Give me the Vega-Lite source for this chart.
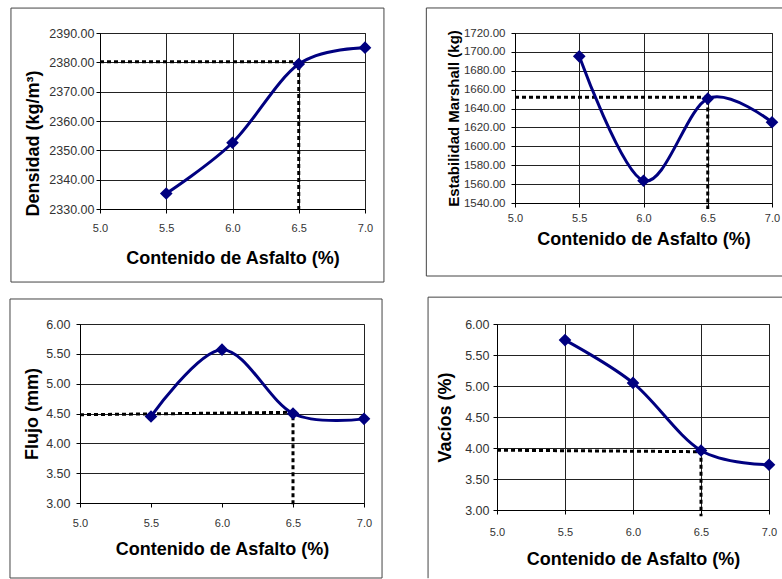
{
  "$schema": "https://vega.github.io/schema/vega-lite/v6.json",
  "background": "white",
  "padding": {"left": 8, "top": 6, "right": 0, "bottom": 0},
  "datasets": {
    "dens": [{"x": 5.5, "y": 2335.3}, {"x": 6.0, "y": 2352.6}, {"x": 6.5, "y": 2379.4}, {"x": 7.0, "y": 2385.0}],
    "estab": [{"x": 5.5, "y": 1695.3}, {"x": 6.0, "y": 1563.6}, {"x": 6.5, "y": 1650.5}, {"x": 7.0, "y": 1625.5}],
    "flujo": [{"x": 5.5, "y": 4.45}, {"x": 6.0, "y": 5.57}, {"x": 6.5, "y": 4.5}, {"x": 7.0, "y": 4.41}],
    "vacios": [{"x": 5.5, "y": 5.74}, {"x": 6.0, "y": 5.05}, {"x": 6.5, "y": 3.96}, {"x": 7.0, "y": 3.73}],
    "ref_dens": [{"k": 1, "x": 5.0, "y": 2380.2}, {"k": 2, "x": 6.5, "y": 2380.2}, {"k": 3, "x": 6.5, "y": 2328.6}],
    "ref_estab": [{"k": 1, "x": 5.0, "y": 1652}, {"k": 2, "x": 6.5, "y": 1652}, {"k": 3, "x": 6.5, "y": 1533.6}],
    "ref_flujo": [{"k": 1, "x": 5.0, "y": 4.48}, {"k": 2, "x": 6.5, "y": 4.52}, {"k": 3, "x": 6.5, "y": 2.93}],
    "ref_vacios": [{"k": 1, "x": 5.0, "y": 3.965}, {"k": 2, "x": 6.5, "y": 3.94}, {"k": 3, "x": 6.5, "y": 2.9}],
    "frame": [{"part": "marco"}],
    "empty": []
  },
  "config": {
    "view": {"stroke": "#222", "strokeWidth": 1},
    "axis": {
      "labelFont": "Liberation Sans",
      "titleFont": "Liberation Sans",
      "titleFontWeight": "bold",
      "titleFontSize": 18,
      "titleColor": "#000",
      "labelColor": "#333",
      "domainColor": "#000",
      "tickColor": "#000",
      "gridColor": "#222",
      "gridOpacity": 1,
      "tickSize": 4,
      "labelOverlap": false,
      "labelFlush": false
    }
  },
  "vconcat": [
    {
      "hconcat": [
        {
          "hconcat": [
            {
              "width": 1,
              "height": 1,
              "view": {"stroke": null},
              "data": {"name": "empty"},
              "mark": {"type": "point", "opacity": 0},
              "encoding": {}
            },
            {
              "width": 265,
              "height": 176,
              "layer": [
                {
                  "data": {"name": "frame"},
                  "mark": {"type": "rect", "filled": false, "color": "#444", "strokeWidth": 1},
                  "encoding": {
                    "x": {"datum": 4.328, "type": "quantitative", "scale": {"domain": [5, 7], "nice": false, "zero": false},
                      "axis": {"values": [5, 5.5, 6, 6.5, 7], "format": ".1f", "title": "Contenido de Asfalto (%)", "labelFontSize": 11, "labelPadding": 9, "titlePadding": 16, "grid": true}},
                    "x2": {"datum": 7.143},
                    "y": {"datum": 2398.5, "type": "quantitative", "scale": {"domain": [2330, 2390], "nice": false, "zero": false},
                      "axis": {"values": [2330, 2340, 2350, 2360, 2370, 2380, 2390], "format": ".2f", "title": "Densidad  (kg/m³)", "labelFontSize": 12.5, "labelPadding": 2, "titlePadding": 6, "titleY": 110, "grid": true}},
                    "y2": {"datum": 2305.1}
                  }
                },
                {
                  "data": {"name": "ref_dens"},
                  "mark": {"type": "line", "color": "#000", "strokeWidth": 3, "strokeDash": [4, 3]},
                  "encoding": {
                    "x": {"field": "x", "type": "quantitative", "scale": {"domain": [5, 7], "nice": false, "zero": false},
                      "axis": {"values": [5, 5.5, 6, 6.5, 7], "format": ".1f", "title": "Contenido de Asfalto (%)", "labelFontSize": 11, "labelPadding": 9, "titlePadding": 16, "grid": true}},
                    "y": {"field": "y", "type": "quantitative", "scale": {"domain": [2330, 2390], "nice": false, "zero": false},
                      "axis": {"values": [2330, 2340, 2350, 2360, 2370, 2380, 2390], "format": ".2f", "title": "Densidad  (kg/m³)", "labelFontSize": 12.5, "labelPadding": 2, "titlePadding": 6, "titleY": 110, "grid": true}},
                    "order": {"field": "k"}
                  }
                },
                {
                  "data": {"name": "dens"},
                  "mark": {"type": "line", "color": "#000080", "strokeWidth": 3, "interpolate": "cardinal"},
                  "encoding": {
                    "x": {"field": "x", "type": "quantitative", "scale": {"domain": [5, 7], "nice": false, "zero": false},
                      "axis": {"values": [5, 5.5, 6, 6.5, 7], "format": ".1f", "title": "Contenido de Asfalto (%)", "labelFontSize": 11, "labelPadding": 9, "titlePadding": 16, "grid": true}},
                    "y": {"field": "y", "type": "quantitative", "scale": {"domain": [2330, 2390], "nice": false, "zero": false},
                      "axis": {"values": [2330, 2340, 2350, 2360, 2370, 2380, 2390], "format": ".2f", "title": "Densidad  (kg/m³)", "labelFontSize": 12.5, "labelPadding": 2, "titlePadding": 6, "titleY": 110, "grid": true}}
                  }
                },
                {
                  "data": {"name": "dens"},
                  "mark": {"type": "point", "shape": "diamond", "filled": true, "color": "#000080", "size": 160, "opacity": 1},
                  "encoding": {
                    "x": {"field": "x", "type": "quantitative", "scale": {"domain": [5, 7], "nice": false, "zero": false},
                      "axis": {"values": [5, 5.5, 6, 6.5, 7], "format": ".1f", "title": "Contenido de Asfalto (%)", "labelFontSize": 11, "labelPadding": 9, "titlePadding": 16, "grid": true}},
                    "y": {"field": "y", "type": "quantitative", "scale": {"domain": [2330, 2390], "nice": false, "zero": false},
                      "axis": {"values": [2330, 2340, 2350, 2360, 2370, 2380, 2390], "format": ".2f", "title": "Densidad  (kg/m³)", "labelFontSize": 12.5, "labelPadding": 2, "titlePadding": 6, "titleY": 110, "grid": true}}
                  }
                }
              ]
            }
          ],
          "spacing": -72
        },
        {
          "width": 257,
          "height": 170,
          "layer": [
            {
              "data": {"name": "frame"},
              "mark": {"type": "rule", "color": "#444", "strokeWidth": 1},
              "encoding": {
                "x": {"datum": 4.31, "type": "quantitative", "scale": {"domain": [5, 7], "nice": false, "zero": false},
                  "axis": {"values": [5, 5.5, 6, 6.5, 7], "format": ".1f", "title": "Contenido de Asfalto (%)", "labelFontSize": 11, "labelPadding": 5, "titlePadding": 7, "grid": true}},
                "y": {"datum": 1746.5, "type": "quantitative", "scale": {"domain": [1540, 1720], "nice": false, "zero": false},
                  "axis": {"values": [1540, 1560, 1580, 1600, 1620, 1640, 1660, 1680, 1700, 1720], "format": ".2f", "title": "Estabilidad Marshall  (kg)", "titleFontSize": 15, "labelFontSize": 11.5, "labelPadding": 6, "titlePadding": 2, "grid": true}},
                "y2": {"datum": 1462.7}
              }
            },
            {
              "data": {"name": "frame"},
              "mark": {"type": "rule", "color": "#444", "strokeWidth": 1},
              "encoding": {
                "x": {"datum": 4.31, "type": "quantitative", "scale": {"domain": [5, 7], "nice": false, "zero": false},
                  "axis": {"values": [5, 5.5, 6, 6.5, 7], "format": ".1f", "title": "Contenido de Asfalto (%)", "labelFontSize": 11, "labelPadding": 5, "titlePadding": 7, "grid": true}},
                "x2": {"datum": 7.08},
                "y": {"datum": 1746.5, "type": "quantitative", "scale": {"domain": [1540, 1720], "nice": false, "zero": false},
                  "axis": {"values": [1540, 1560, 1580, 1600, 1620, 1640, 1660, 1680, 1700, 1720], "format": ".2f", "title": "Estabilidad Marshall  (kg)", "titleFontSize": 15, "labelFontSize": 11.5, "labelPadding": 6, "titlePadding": 2, "grid": true}}
              }
            },
            {
              "data": {"name": "frame"},
              "mark": {"type": "rule", "color": "#444", "strokeWidth": 1},
              "encoding": {
                "x": {"datum": 4.31, "type": "quantitative", "scale": {"domain": [5, 7], "nice": false, "zero": false},
                  "axis": {"values": [5, 5.5, 6, 6.5, 7], "format": ".1f", "title": "Contenido de Asfalto (%)", "labelFontSize": 11, "labelPadding": 5, "titlePadding": 7, "grid": true}},
                "x2": {"datum": 7.08},
                "y": {"datum": 1462.7, "type": "quantitative", "scale": {"domain": [1540, 1720], "nice": false, "zero": false},
                  "axis": {"values": [1540, 1560, 1580, 1600, 1620, 1640, 1660, 1680, 1700, 1720], "format": ".2f", "title": "Estabilidad Marshall  (kg)", "titleFontSize": 15, "labelFontSize": 11.5, "labelPadding": 6, "titlePadding": 2, "grid": true}}
              }
            },
            {
              "data": {"name": "ref_estab"},
              "mark": {"type": "line", "color": "#000", "strokeWidth": 3, "strokeDash": [4, 3]},
              "encoding": {
                "x": {"field": "x", "type": "quantitative", "scale": {"domain": [5, 7], "nice": false, "zero": false},
                  "axis": {"values": [5, 5.5, 6, 6.5, 7], "format": ".1f", "title": "Contenido de Asfalto (%)", "labelFontSize": 11, "labelPadding": 5, "titlePadding": 7, "grid": true}},
                "y": {"field": "y", "type": "quantitative", "scale": {"domain": [1540, 1720], "nice": false, "zero": false},
                  "axis": {"values": [1540, 1560, 1580, 1600, 1620, 1640, 1660, 1680, 1700, 1720], "format": ".2f", "title": "Estabilidad Marshall  (kg)", "titleFontSize": 15, "labelFontSize": 11.5, "labelPadding": 6, "titlePadding": 2, "grid": true}},
                "order": {"field": "k"}
              }
            },
            {
              "data": {"name": "estab"},
              "mark": {"type": "line", "color": "#000080", "strokeWidth": 3, "interpolate": "cardinal"},
              "encoding": {
                "x": {"field": "x", "type": "quantitative", "scale": {"domain": [5, 7], "nice": false, "zero": false},
                  "axis": {"values": [5, 5.5, 6, 6.5, 7], "format": ".1f", "title": "Contenido de Asfalto (%)", "labelFontSize": 11, "labelPadding": 5, "titlePadding": 7, "grid": true}},
                "y": {"field": "y", "type": "quantitative", "scale": {"domain": [1540, 1720], "nice": false, "zero": false},
                  "axis": {"values": [1540, 1560, 1580, 1600, 1620, 1640, 1660, 1680, 1700, 1720], "format": ".2f", "title": "Estabilidad Marshall  (kg)", "titleFontSize": 15, "labelFontSize": 11.5, "labelPadding": 6, "titlePadding": 2, "grid": true}}
              }
            },
            {
              "data": {"name": "estab"},
              "mark": {"type": "point", "shape": "diamond", "filled": true, "color": "#000080", "size": 160, "opacity": 1},
              "encoding": {
                "x": {"field": "x", "type": "quantitative", "scale": {"domain": [5, 7], "nice": false, "zero": false},
                  "axis": {"values": [5, 5.5, 6, 6.5, 7], "format": ".1f", "title": "Contenido de Asfalto (%)", "labelFontSize": 11, "labelPadding": 5, "titlePadding": 7, "grid": true}},
                "y": {"field": "y", "type": "quantitative", "scale": {"domain": [1540, 1720], "nice": false, "zero": false},
                  "axis": {"values": [1540, 1560, 1580, 1600, 1620, 1640, 1660, 1680, 1700, 1720], "format": ".2f", "title": "Estabilidad Marshall  (kg)", "titleFontSize": 15, "labelFontSize": 11.5, "labelPadding": 6, "titlePadding": 2, "grid": true}}
              }
            }
          ]
        }
      ],
      "spacing": 40
    },
    {
      "hconcat": [
        {
          "width": 284,
          "height": 179,
          "layer": [
            {
              "data": {"name": "frame"},
              "mark": {"type": "rect", "filled": false, "color": "#444", "strokeWidth": 1},
              "encoding": {
                "x": {"datum": 4.507, "type": "quantitative", "scale": {"domain": [5, 7], "nice": false, "zero": false},
                  "axis": {"values": [5, 5.5, 6, 6.5, 7], "format": ".1f", "title": "Contenido de Asfalto (%)", "labelFontSize": 11, "labelPadding": 10, "titlePadding": 12, "grid": false}},
                "x2": {"datum": 7.127},
                "y": {"datum": 6.419, "type": "quantitative", "scale": {"domain": [3, 6], "nice": false, "zero": false},
                  "axis": {"values": [3, 3.5, 4, 4.5, 5, 5.5, 6], "format": ".2f", "title": "Flujo  (mm)", "labelFontSize": 12.5, "labelPadding": 6, "titlePadding": 4, "grid": true}},
                "y2": {"datum": 1.743}
              }
            },
            {
              "data": {"name": "ref_flujo"},
              "mark": {"type": "line", "color": "#000", "strokeWidth": 3, "strokeDash": [4, 3]},
              "encoding": {
                "x": {"field": "x", "type": "quantitative", "scale": {"domain": [5, 7], "nice": false, "zero": false},
                  "axis": {"values": [5, 5.5, 6, 6.5, 7], "format": ".1f", "title": "Contenido de Asfalto (%)", "labelFontSize": 11, "labelPadding": 10, "titlePadding": 12, "grid": false}},
                "y": {"field": "y", "type": "quantitative", "scale": {"domain": [3, 6], "nice": false, "zero": false},
                  "axis": {"values": [3, 3.5, 4, 4.5, 5, 5.5, 6], "format": ".2f", "title": "Flujo  (mm)", "labelFontSize": 12.5, "labelPadding": 6, "titlePadding": 4, "grid": true}},
                "order": {"field": "k"}
              }
            },
            {
              "data": {"name": "flujo"},
              "mark": {"type": "line", "color": "#000080", "strokeWidth": 3, "interpolate": "cardinal"},
              "encoding": {
                "x": {"field": "x", "type": "quantitative", "scale": {"domain": [5, 7], "nice": false, "zero": false},
                  "axis": {"values": [5, 5.5, 6, 6.5, 7], "format": ".1f", "title": "Contenido de Asfalto (%)", "labelFontSize": 11, "labelPadding": 10, "titlePadding": 12, "grid": false}},
                "y": {"field": "y", "type": "quantitative", "scale": {"domain": [3, 6], "nice": false, "zero": false},
                  "axis": {"values": [3, 3.5, 4, 4.5, 5, 5.5, 6], "format": ".2f", "title": "Flujo  (mm)", "labelFontSize": 12.5, "labelPadding": 6, "titlePadding": 4, "grid": true}}
              }
            },
            {
              "data": {"name": "flujo"},
              "mark": {"type": "point", "shape": "diamond", "filled": true, "color": "#000080", "size": 160, "opacity": 1},
              "encoding": {
                "x": {"field": "x", "type": "quantitative", "scale": {"domain": [5, 7], "nice": false, "zero": false},
                  "axis": {"values": [5, 5.5, 6, 6.5, 7], "format": ".1f", "title": "Contenido de Asfalto (%)", "labelFontSize": 11, "labelPadding": 10, "titlePadding": 12, "grid": false}},
                "y": {"field": "y", "type": "quantitative", "scale": {"domain": [3, 6], "nice": false, "zero": false},
                  "axis": {"values": [3, 3.5, 4, 4.5, 5, 5.5, 6], "format": ".2f", "title": "Flujo  (mm)", "labelFontSize": 12.5, "labelPadding": 6, "titlePadding": 4, "grid": true}}
              }
            }
          ]
        },
        {
          "width": 272,
          "height": 186,
          "layer": [
            {
              "data": {"name": "frame"},
              "mark": {"type": "rule", "color": "#444", "strokeWidth": 1},
              "encoding": {
                "x": {"datum": 4.493, "type": "quantitative", "scale": {"domain": [5, 7], "nice": false, "zero": false},
                  "axis": {"values": [5, 5.5, 6, 6.5, 7], "format": ".1f", "title": "Contenido de Asfalto (%)", "labelFontSize": 11, "labelPadding": 12, "titlePadding": 13, "grid": true}},
                "y": {"datum": 6.433, "type": "quantitative", "scale": {"domain": [3, 6], "nice": false, "zero": false},
                  "axis": {"values": [3, 3.5, 4, 4.5, 5, 5.5, 6], "format": ".2f", "title": "Vacíos  (%)", "labelFontSize": 12.5, "labelPadding": 4, "titlePadding": 10, "grid": true}},
                "y2": {"datum": 1.9}
              }
            },
            {
              "data": {"name": "frame"},
              "mark": {"type": "rule", "color": "#444", "strokeWidth": 1},
              "encoding": {
                "x": {"datum": 4.493, "type": "quantitative", "scale": {"domain": [5, 7], "nice": false, "zero": false},
                  "axis": {"values": [5, 5.5, 6, 6.5, 7], "format": ".1f", "title": "Contenido de Asfalto (%)", "labelFontSize": 11, "labelPadding": 12, "titlePadding": 13, "grid": true}},
                "x2": {"datum": 7.11},
                "y": {"datum": 6.433, "type": "quantitative", "scale": {"domain": [3, 6], "nice": false, "zero": false},
                  "axis": {"values": [3, 3.5, 4, 4.5, 5, 5.5, 6], "format": ".2f", "title": "Vacíos  (%)", "labelFontSize": 12.5, "labelPadding": 4, "titlePadding": 10, "grid": true}}
              }
            },
            {
              "data": {"name": "ref_vacios"},
              "mark": {"type": "line", "color": "#000", "strokeWidth": 3, "strokeDash": [4, 3]},
              "encoding": {
                "x": {"field": "x", "type": "quantitative", "scale": {"domain": [5, 7], "nice": false, "zero": false},
                  "axis": {"values": [5, 5.5, 6, 6.5, 7], "format": ".1f", "title": "Contenido de Asfalto (%)", "labelFontSize": 11, "labelPadding": 12, "titlePadding": 13, "grid": true}},
                "y": {"field": "y", "type": "quantitative", "scale": {"domain": [3, 6], "nice": false, "zero": false},
                  "axis": {"values": [3, 3.5, 4, 4.5, 5, 5.5, 6], "format": ".2f", "title": "Vacíos  (%)", "labelFontSize": 12.5, "labelPadding": 4, "titlePadding": 10, "grid": true}},
                "order": {"field": "k"}
              }
            },
            {
              "data": {"name": "vacios"},
              "mark": {"type": "line", "color": "#000080", "strokeWidth": 3, "interpolate": "cardinal"},
              "encoding": {
                "x": {"field": "x", "type": "quantitative", "scale": {"domain": [5, 7], "nice": false, "zero": false},
                  "axis": {"values": [5, 5.5, 6, 6.5, 7], "format": ".1f", "title": "Contenido de Asfalto (%)", "labelFontSize": 11, "labelPadding": 12, "titlePadding": 13, "grid": true}},
                "y": {"field": "y", "type": "quantitative", "scale": {"domain": [3, 6], "nice": false, "zero": false},
                  "axis": {"values": [3, 3.5, 4, 4.5, 5, 5.5, 6], "format": ".2f", "title": "Vacíos  (%)", "labelFontSize": 12.5, "labelPadding": 4, "titlePadding": 10, "grid": true}}
              }
            },
            {
              "data": {"name": "vacios"},
              "mark": {"type": "point", "shape": "diamond", "filled": true, "color": "#000080", "size": 160, "opacity": 1},
              "encoding": {
                "x": {"field": "x", "type": "quantitative", "scale": {"domain": [5, 7], "nice": false, "zero": false},
                  "axis": {"values": [5, 5.5, 6, 6.5, 7], "format": ".1f", "title": "Contenido de Asfalto (%)", "labelFontSize": 11, "labelPadding": 12, "titlePadding": 13, "grid": true}},
                "y": {"field": "y", "type": "quantitative", "scale": {"domain": [3, 6], "nice": false, "zero": false},
                  "axis": {"values": [3, 3.5, 4, 4.5, 5, 5.5, 6], "format": ".2f", "title": "Vacíos  (%)", "labelFontSize": 12.5, "labelPadding": 4, "titlePadding": 10, "grid": true}}
              }
            }
          ]
        }
      ],
      "spacing": 43
    }
  ],
  "spacing": 12
}
